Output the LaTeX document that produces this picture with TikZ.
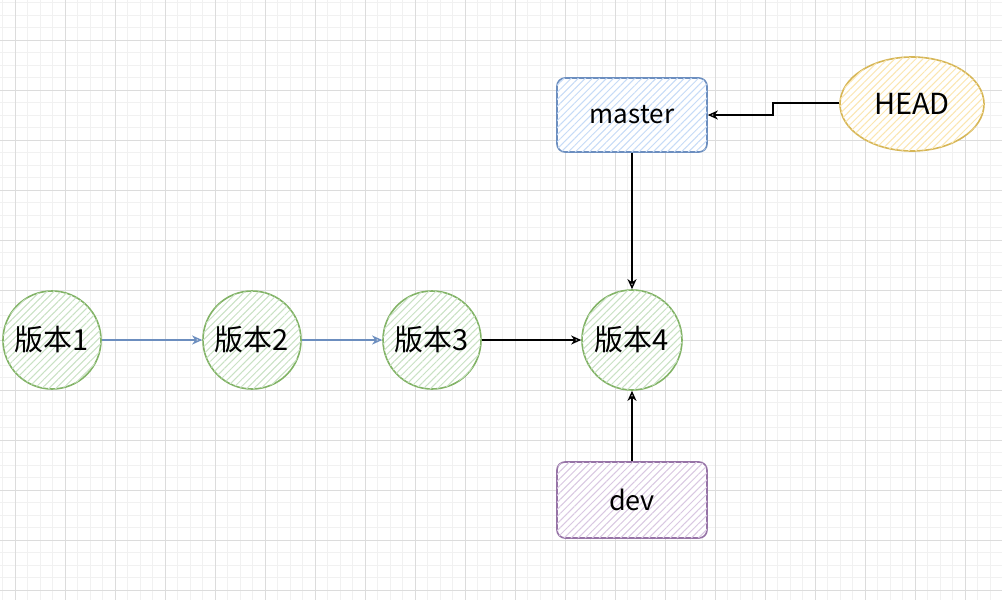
\documentclass[tikz,border=0pt]{standalone}
\usepackage{fontspec}
\setmainfont{Noto Sans CJK SC}
\usetikzlibrary{arrows.meta,patterns.meta,shapes.geometric}
\definecolor{gstroke}{HTML}{82B366}
\definecolor{gfill}{HTML}{C9E2C4}
\definecolor{bstroke}{HTML}{6C8EBF}
\definecolor{bfill}{HTML}{C6DBF7}
\definecolor{ystroke}{HTML}{D6B656}
\definecolor{yfill}{HTML}{FBE6B0}
\definecolor{pstroke}{HTML}{9673A6}
\definecolor{pfill}{HTML}{D9C8E2}
\definecolor{gridminor}{HTML}{F1F1F1}
\definecolor{gridmajor}{HTML}{DCDCDC}
\tikzset{
  hatch/.style={postaction={pattern={Lines[angle=45,distance=5pt,line width=1pt]},pattern color=#1}},
  ver/.style={circle,draw=gstroke,line width=1.6pt,fill=white,hatch=gfill,minimum size=98pt,inner sep=0pt,font=\fontsize{29}{29}\selectfont},
  branch/.style={rectangle,rounded corners=8pt,line width=1.6pt,fill=white,minimum width=150pt,minimum height=74pt,font=\fontsize{26}{26}\selectfont},
  conn/.style={line width=1.4pt,-{Stealth[open,length=10pt,width=9pt,inset=3pt]}},
}
\begin{document}
\begin{tikzpicture}[x=1pt,y=-1pt]
\useasboundingbox (0,0) rectangle (1002,600);
\fill[white] (0,0) rectangle (1002,600);
\foreach \i in {0,...,80} {
  \draw[gridminor,line width=0.8pt] ({2.5+12.5*\i},0) -- ({2.5+12.5*\i},600);
}
\foreach \i in {0,...,48} {
  \draw[gridminor,line width=0.8pt] (0,{2.5+12.5*\i}) -- (1002,{2.5+12.5*\i});
}
\foreach \i in {0,...,20} {
  \draw[gridmajor,line width=0.8pt] ({15+50*\i},0) -- ({15+50*\i},600);
}
\foreach \i in {0,...,11} {
  \draw[gridmajor,line width=0.8pt] (0,{40+50*\i}) -- (1002,{40+50*\i});
}

\node[ver] (v1) at (52,340) {版本1};
\node[ver] (v2) at (252,340) {版本2};
\node[ver] (v3) at (432,340) {版本3};
\node[ver,minimum size=100pt] (v4) at (632,340) {版本4};

\node[branch,draw=bstroke,hatch=bfill] (master) at (632,115) {master};
\node[branch,draw=pstroke,hatch=pfill,minimum height=76pt,font=\fontsize{27}{27}\selectfont] (dev) at (632,500) {dev};
\node[ellipse,draw=ystroke,line width=1.6pt,fill=white,hatch=yfill,minimum width=144pt,minimum height=94pt,inner sep=0pt,font=\fontsize{29}{29}\selectfont] (head) at (912,104) {HEAD};

\draw[conn,bstroke] (v1) -- (v2);
\draw[conn,bstroke] (v2) -- (v3);
\draw[conn,black] (v3) -- (v4);
\draw[conn,black] (master) -- (v4);
\draw[conn,black] (dev) -- (v4);
\coordinate (hk1) at (773,103);
\coordinate (hk2) at (773,115);
\draw[conn,black] (head.west |- hk1) -- (hk1) -- (hk2) -- (master.east |- hk2);
\end{tikzpicture}
\end{document}
